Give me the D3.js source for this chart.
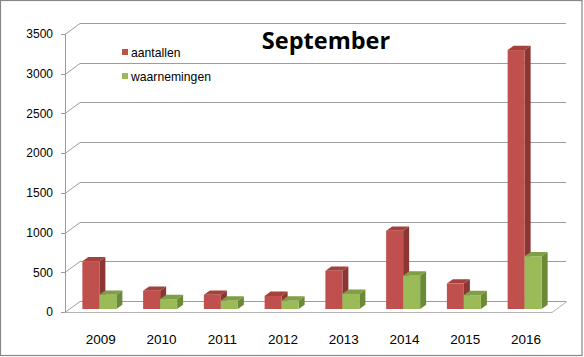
<!DOCTYPE html>
<html><head><meta charset="utf-8">
<script src="https://cdn.jsdelivr.net/npm/d3@7"></script>
<style>html,body{margin:0;padding:0;background:#fff;}svg{display:block;}</style>
</head><body>
<svg id="chart" width="584" height="357"></svg>
<script>
const years = ["2009","2010","2011","2012","2013","2014","2015","2016"];
const aantallen = [600, 230, 180, 165, 480, 985, 320, 3260];
const waarnemingen = [180, 125, 105, 105, 190, 420, 175, 665];
const seriesNames = ["aantallen", "waarnemingen"];
const yTicks = [0, 500, 1000, 1500, 2000, 2500, 3000, 3500];
const title = "September";

const colors = {
  aantallen: {front: "#C0504D", side: "#8C3634", top: "#A5403D"},
  waarnemingen: {front: "#9BBB59", side: "#6C8A36", top: "#809E45"}
};

const W = 584, H = 357;
const svg = d3.select("#chart");
const font = "'Liberation Sans', Arial, sans-serif";

// border
svg.append("rect").attr("x", 0.5).attr("y", 0.5).attr("width", 581.5).attr("height", 355)
  .attr("fill", "#fff").attr("stroke", "#878787").attr("stroke-width", 1.2);

const x0 = 65, x1 = 551, yBot = 312, yTop = 34;
const dep = {dx: 15, dy: -11};        // floor depth
const barShift = {dx: 4, dy: -3};     // bar front position within depth
const barDep = {dx: 6, dy: -4.3};     // bar depth

const y = d3.scaleLinear().domain([0, 3500]).range([yBot, yTop]);
const xb = d3.scaleBand().domain(years).range([x0, x1]).padding(0);
const groupW = 34;
const xs = d3.scaleBand().domain(seriesNames).range([0, groupW]).padding(0);

const grid = svg.append("g").attr("stroke", "#9c9c9c").attr("stroke-width", 1).attr("fill", "none");
// back wall gridlines + left wall diagonals
yTicks.forEach(t => {
  const yy = Math.round(y(t)) + 0.5;
  grid.append("line").attr("x1", x0 + dep.dx).attr("y1", yy + dep.dy)
    .attr("x2", x1 + dep.dx).attr("y2", yy + dep.dy);
  grid.append("line").attr("x1", x0).attr("y1", yy)
    .attr("x2", x0 + dep.dx).attr("y2", yy + dep.dy);
  grid.append("line").attr("x1", x0 - 4).attr("y1", yy).attr("x2", x0).attr("y2", yy);
});
// axis line
grid.append("line").attr("x1", x0 + 0.5).attr("y1", y(3500)).attr("x2", x0 + 0.5).attr("y2", yBot + 0.5);
// floor front edge and right edge
grid.append("line").attr("x1", x0).attr("y1", yBot + 0.5).attr("x2", x1 + 1).attr("y2", yBot + 0.5).attr("stroke", "#b4b4b4");
grid.append("line").attr("x1", x1 + 1).attr("y1", yBot + 0.5).attr("x2", x1 + 1 + dep.dx).attr("y2", yBot + 0.5 + dep.dy).attr("stroke", "#b4b4b4");

// y tick labels
svg.append("g").selectAll("text").data(yTicks).join("text")
  .attr("x", 53).attr("y", d => y(d) + 4.3)
  .attr("text-anchor", "end").attr("font-family", font).attr("font-size", 12).attr("fill", "#000")
  .text(d => d);

// bars
const bars = svg.append("g");
const data = [aantallen, waarnemingen];
years.forEach((yr, i) => {
  const gx = xb(yr) + xb.bandwidth() / 2 - groupW / 2;
  seriesNames.forEach((s, j) => {
    const v = data[j][i];
    const c = colors[s];
    const left = gx + xs(s) + barShift.dx;
    const right = left + xs.bandwidth();
    const bottom = y(0) + barShift.dy;
    const top = y(v) + barShift.dy;
    const g = bars.append("g");
    g.append("path").attr("fill", c.side).attr("d",
      `M${right},${bottom}L${right + barDep.dx},${bottom + barDep.dy}L${right + barDep.dx},${top + barDep.dy}L${right},${top}Z`);
    g.append("path").attr("fill", c.top).attr("d",
      `M${left},${top}L${left + barDep.dx},${top + barDep.dy}L${right + barDep.dx},${top + barDep.dy}L${right},${top}Z`);
    g.append("rect").attr("x", left).attr("y", top).attr("width", right - left).attr("height", bottom - top).attr("fill", c.front);
  });
});

// category labels
svg.append("g").selectAll("text").data(years).join("text")
  .attr("x", d => xb(d) + xb.bandwidth() / 2 + 5.5).attr("y", 343.5)
  .attr("text-anchor", "middle").attr("font-family", font).attr("font-size", 13.5).attr("fill", "#000")
  .text(d => d);

// legend
const leg = svg.append("g");
seriesNames.forEach((s, i) => {
  leg.append("rect").attr("x", 122).attr("y", 49 + i * 24).attr("width", 6).attr("height", 6).attr("fill", colors[s].front);
  leg.append("text").attr("x", 131).attr("y", 56.5 + i * 24)
    .attr("font-family", font).attr("font-size", 12.2).attr("fill", "#000").text(s);
});

// title
svg.append("text").attr("x", 326).attr("y", 48.5).attr("text-anchor", "middle")
  .attr("font-family", "'Open Sans', sans-serif").attr("font-weight", "bold").attr("font-size", 23.5)
  .attr("fill", "#000").text(title);
</script>
</body></html>
